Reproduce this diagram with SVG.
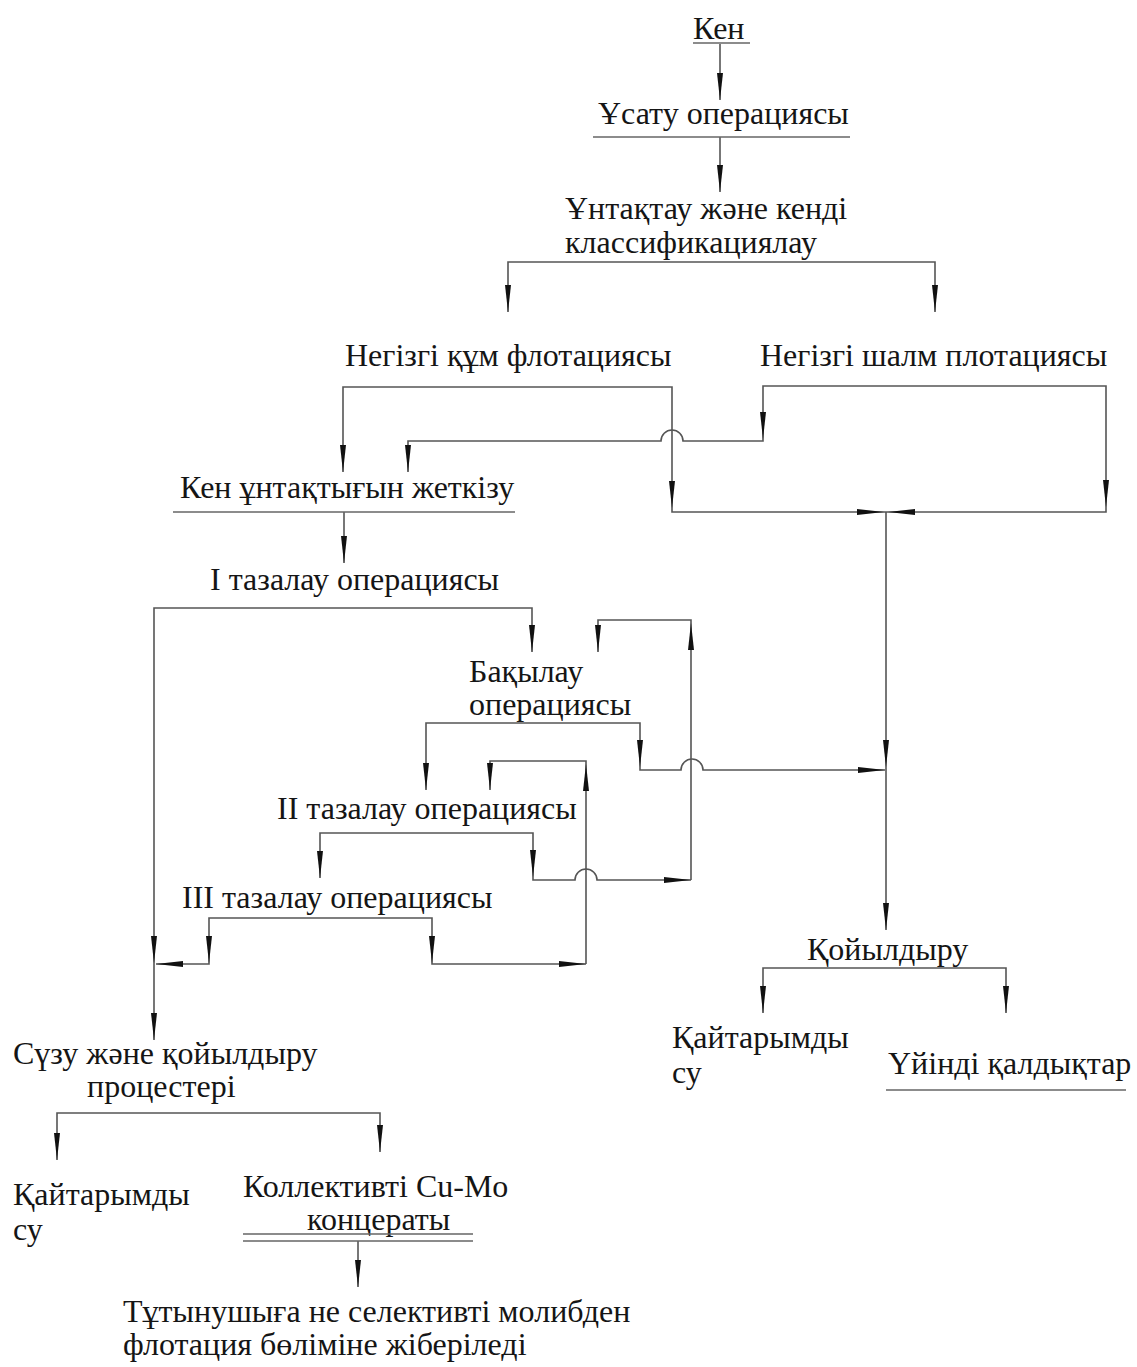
<svg xmlns="http://www.w3.org/2000/svg" xmlns:xlink="http://www.w3.org/1999/xlink" width="1137" height="1367" viewBox="0 0 1137 1367">
<defs>
<style>
.t{font-family:"Liberation Serif","Times New Roman",serif;font-size:32px;fill:#151515}
.ln{fill:none;stroke:#555;stroke-width:1.6}
.ul{fill:none;stroke:#666;stroke-width:1.6}
.ah{fill:#111}
</style>
<path id="ah" d="M0,0 L-3,-27 L3,-27 Z"/>
</defs>
<rect width="1137" height="1367" fill="#fff"/>

<g id="connectors">
<path class="ln" d="M720,44 V100"/>
<path class="ln" d="M720,137 V192"/>
<path class="ln" d="M508,312 V262 H935 V312"/>
<path class="ln" d="M343,472 V387 H672 V512 H886"/>
<path class="ln" d="M1106,507 V386 H763 V441 H683 A11,11 0 0 0 661,441 H408 V472"/>
<path class="ln" d="M1106,507 V512 H886"/>
<path class="ln" d="M886,512 V930"/>
<path class="ln" d="M344,512 V563"/>
<path class="ln" d="M532,652 V608 H154 V1040"/>
<path class="ln" d="M426,790 V723 H640 V770 H681 A11,11 0 0 1 703,770 H885"/>
<path class="ln" d="M691,880 V620 H598 V652"/>
<path class="ln" d="M320,878 V833 H533 V880 H575 A11,11 0 0 1 597,880 H691"/>
<path class="ln" d="M586,964 V761 H490 V790"/>
<path class="ln" d="M156,964 H209 V918 H432 V964 H586"/>
<path class="ln" d="M57,1160 V1113 H380 V1152"/>
<path class="ln" d="M358,1241 V1287"/>
<path class="ln" d="M763,1013 V968 H1006 V1013"/>
<g class="ah">
<use xlink:href="#ah" transform="translate(720,100)"/>
<use xlink:href="#ah" transform="translate(720,192)"/>
<use xlink:href="#ah" transform="translate(508,312)"/>
<use xlink:href="#ah" transform="translate(935,312)"/>
<use xlink:href="#ah" transform="translate(343,472)"/>
<use xlink:href="#ah" transform="translate(408,472)"/>
<use xlink:href="#ah" transform="translate(763,439)"/>
<use xlink:href="#ah" transform="translate(672,508)"/>
<use xlink:href="#ah" transform="translate(1106,507)"/>
<use xlink:href="#ah" transform="translate(884,512) rotate(-90)"/>
<use xlink:href="#ah" transform="translate(888,512) rotate(90)"/>
<use xlink:href="#ah" transform="translate(886,767)"/>
<use xlink:href="#ah" transform="translate(886,930)"/>
<use xlink:href="#ah" transform="translate(344,563)"/>
<use xlink:href="#ah" transform="translate(532,652)"/>
<use xlink:href="#ah" transform="translate(598,652)"/>
<use xlink:href="#ah" transform="translate(691,623) rotate(180)"/>
<use xlink:href="#ah" transform="translate(426,790)"/>
<use xlink:href="#ah" transform="translate(640,767)"/>
<use xlink:href="#ah" transform="translate(885,770) rotate(-90)"/>
<use xlink:href="#ah" transform="translate(490,790)"/>
<use xlink:href="#ah" transform="translate(586,764) rotate(180)"/>
<use xlink:href="#ah" transform="translate(320,878)"/>
<use xlink:href="#ah" transform="translate(533,877)"/>
<use xlink:href="#ah" transform="translate(691,880) rotate(-90)"/>
<use xlink:href="#ah" transform="translate(209,963)"/>
<use xlink:href="#ah" transform="translate(432,963)"/>
<use xlink:href="#ah" transform="translate(156,964) rotate(90)"/>
<use xlink:href="#ah" transform="translate(586,964) rotate(-90)"/>
<use xlink:href="#ah" transform="translate(154,963)"/>
<use xlink:href="#ah" transform="translate(154,1040)"/>
<use xlink:href="#ah" transform="translate(57,1160)"/>
<use xlink:href="#ah" transform="translate(380,1152)"/>
<use xlink:href="#ah" transform="translate(358,1287)"/>
<use xlink:href="#ah" transform="translate(763,1013)"/>
<use xlink:href="#ah" transform="translate(1006,1013)"/>
</g>
</g>

<g id="ken">
<text class="t" x="693" y="39">Кен</text>
<path class="ul" d="M693,43 H750"/>
</g>
<g id="usatu">
<text class="t" x="598" y="124">Ұсату операциясы</text>
<path class="ul" d="M593,137 H850"/>
</g>
<g id="untaktau">
<text class="t" x="565" y="219">Ұнтақтау және кенді</text>
<text class="t" x="565" y="253">классификациялау</text>
</g>
<g id="kum-flotation">
<text class="t" x="345" y="366">Негізгі құм флотациясы</text>
</g>
<g id="shalm-flotation">
<text class="t" x="760" y="366">Негізгі шалм плотациясы</text>
</g>
<g id="ken-untaktygyn">
<text class="t" x="180" y="498">Кен ұнтақтығын жеткізу</text>
<path class="ul" d="M173,512 H515"/>
</g>
<g id="cleaning-1">
<text class="t" x="210" y="590">I тазалау операциясы</text>
</g>
<g id="bakylau">
<text class="t" x="469" y="682">Бақылау</text>
<text class="t" x="469" y="715">операциясы</text>
</g>
<g id="cleaning-2">
<text class="t" x="277" y="819">II тазалау операциясы</text>
</g>
<g id="cleaning-3">
<text class="t" x="182" y="908">III тазалау операциясы</text>
</g>
<g id="koiyldyru">
<text class="t" x="807" y="960">Қойылдыру</text>
</g>
<g id="water-right">
<text class="t" x="672" y="1048">Қайтарымды</text>
<text class="t" x="672" y="1083">су</text>
</g>
<g id="tailings">
<text class="t" x="888" y="1074">Үйінді қалдықтар</text>
<path class="ul" d="M886,1090 H1126"/>
</g>
<g id="filtering">
<text class="t" x="13" y="1064">Сүзу және қойылдыру</text>
<text class="t" x="87" y="1097">процестері</text>
</g>
<g id="water-left">
<text class="t" x="13" y="1205">Қайтарымды</text>
<text class="t" x="13" y="1240">су</text>
</g>
<g id="concentrate">
<text class="t" x="243" y="1197">Коллективті Cu-Mo</text>
<text class="t" x="307" y="1230">концераты</text>
<path class="ul" d="M243,1234 H473 M243,1241 H473"/>
</g>
<g id="consumer">
<text class="t" x="123" y="1322">Тұтынушыға не селективті молибден</text>
<text class="t" x="123" y="1355">флотация бөліміне жіберіледі</text>
</g>
</svg>
